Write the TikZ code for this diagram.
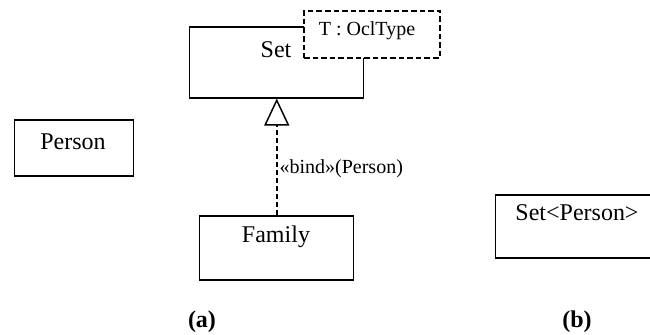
\documentclass[tikz,border=0pt]{standalone}
\usepackage{fontspec}
\setmainfont{Liberation Serif}
\usetikzlibrary{arrows.meta}
\begin{document}
\begin{tikzpicture}[x=0.5pt,y=-0.5pt,
  box/.style={draw, line width=0.75pt, fill=white, inner sep=0pt},
  lbl/.style={font=\fontsize{12}{14}\selectfont, inner sep=0pt},
  small/.style={font=\fontsize{10}{12}\selectfont, inner sep=0pt},
  captxt/.style={font=\fontsize{12}{14}\selectfont\bfseries, inner sep=0pt},
  bindarrow/.style={dashed, dash pattern=on 2.5pt off 1.5pt, line width=0.85pt,
    -{Triangle[open, width=12.5pt, length=13.5pt, line width=0.75pt]}}]
\useasboundingbox (0,0) rectangle (650,334);
\clip (0,0) rectangle (650,334);
% Set class box
\node[box, minimum width=87pt, minimum height=35.5pt, anchor=north west] (set) at (189,26) {};
\node[lbl] (settext) at (276,50) {Set};
% template parameter box
\node[box, dashed, dash pattern=on 2.8pt off 1.5pt, line width=1pt, minimum width=68pt, minimum height=23.5pt, anchor=north west] (param) at (303,10) {};
\node[small] (paramtext) at (367,31) {T : OclType};
% Family
\node[box, minimum width=77pt, minimum height=32pt, anchor=north west] (family) at (199,215) {};
\node[lbl] (familytext) at (276,237) {Family};
% Person
\node[box, minimum width=59.5pt, minimum height=28pt, anchor=north west] (person) at (14,119) {};
\node[lbl] (persontext) at (73,142) {Person};
% Set<Person>
\node[box, minimum width=90pt, minimum height=31.5pt, anchor=north west] (setperson) at (495,194) {};
\node[lbl] (setpersontext) at (577,213) {Set<Person>};
% binding
\draw[bindarrow] (family.north) -- (set.south)
  node[small, pos=0.4, anchor=west, xshift=1pt] (bindlbl) {«bind»(Person)};
% captions
\node[captxt] (capa) at (202,322) {(a)};
\node[captxt] (capb) at (577,322) {(b)};
\end{tikzpicture}
\end{document}
